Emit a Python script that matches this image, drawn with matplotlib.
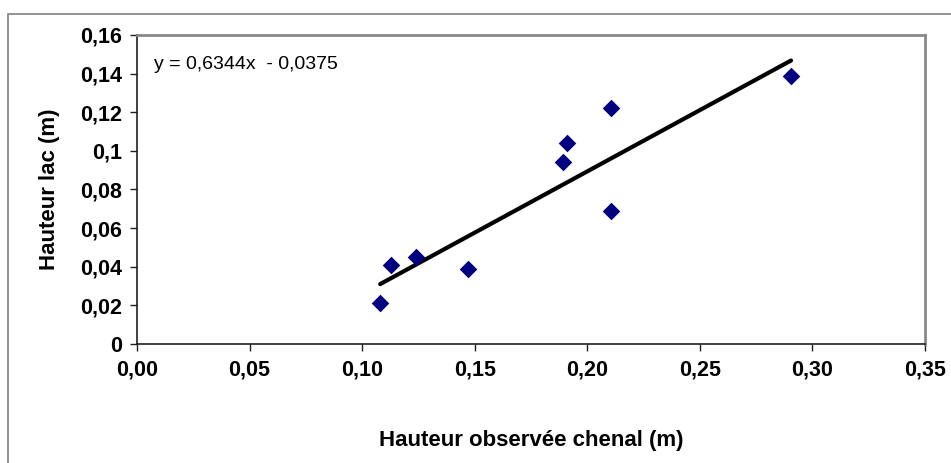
import matplotlib.pyplot as plt
import matplotlib.patches as patches
import numpy as np

plt.rcParams['font.family'] = ['Liberation Sans', 'DejaVu Sans']

# observed channel height (x) vs lake height (y), metres
chenal = [0.108, 0.113, 0.124, 0.147, 0.189, 0.191, 0.2105, 0.2105, 0.2905]
lac = [0.021, 0.041, 0.045, 0.039, 0.094, 0.104, 0.122, 0.069, 0.139]

slope = 0.6344
intercept = -0.0375

x_ticks = [0.00, 0.05, 0.10, 0.15, 0.20, 0.25, 0.30, 0.35]
x_labels = ["0,00", "0,05", "0,10", "0,15", "0,20", "0,25", "0,30", "0,35"]
y_ticks = [0, 0.02, 0.04, 0.06, 0.08, 0.1, 0.12, 0.14, 0.16]
y_labels = ["0", "0,02", "0,04", "0,06", "0,08", "0,1", "0,12", "0,14", "0,16"]

fig = plt.figure(figsize=(9.51, 4.63), dpi=100)

# outer chart frame (runs off the right / bottom of the image)
frame = patches.Rectangle((8 / 951, -0.05), 1.1, 1 - 14 / 463 + 0.05,
                          transform=fig.transFigure, fill=False,
                          edgecolor="#808080", linewidth=1.2)
fig.patches.append(frame)

ax = fig.add_axes([137 / 951, (463 - 344) / 463, (925 - 137) / 951, (344 - 35) / 463])

# trend line over data range
xs = np.array([min(chenal), max(chenal)])
ax.plot(xs, slope * xs + intercept, color="black", linewidth=3, solid_capstyle="round", zorder=2)
ax.scatter(chenal, lac, marker="D", s=80, color="#000080", zorder=3, linewidths=0)

ax.set_xlim(0, 0.35)
ax.set_ylim(0, 0.16)
ax.set_xticks(x_ticks)
ax.set_xticklabels(x_labels)
ax.set_yticks(y_ticks)
ax.set_yticklabels(y_labels)
ax.tick_params(labelsize=15.5, length=5, width=1, color="#202020", direction="out")
ax.tick_params(axis="y", pad=6)
ax.tick_params(axis="x", pad=6)
for lbl in ax.get_xticklabels() + ax.get_yticklabels():
    lbl.set_fontweight("bold")

for side in ["left", "bottom"]:
    ax.spines[side].set_color("#202020")
    ax.spines[side].set_linewidth(1.2)
for side in ["top", "right"]:
    ax.spines[side].set_color("#888888")
    ax.spines[side].set_linewidth(2)

ax.set_xlabel("Hauteur observée chenal (m)", fontsize=16, fontweight="bold", labelpad=36)
ax.set_ylabel("Hauteur lac (m)", fontsize=16, fontweight="bold", labelpad=14)

ax.text(0.022, 0.903, "y = 0,6344x  - 0,0375", transform=ax.transAxes,
        fontsize=14, va="center", ha="left")

fig.savefig("out.png", dpi=100)
